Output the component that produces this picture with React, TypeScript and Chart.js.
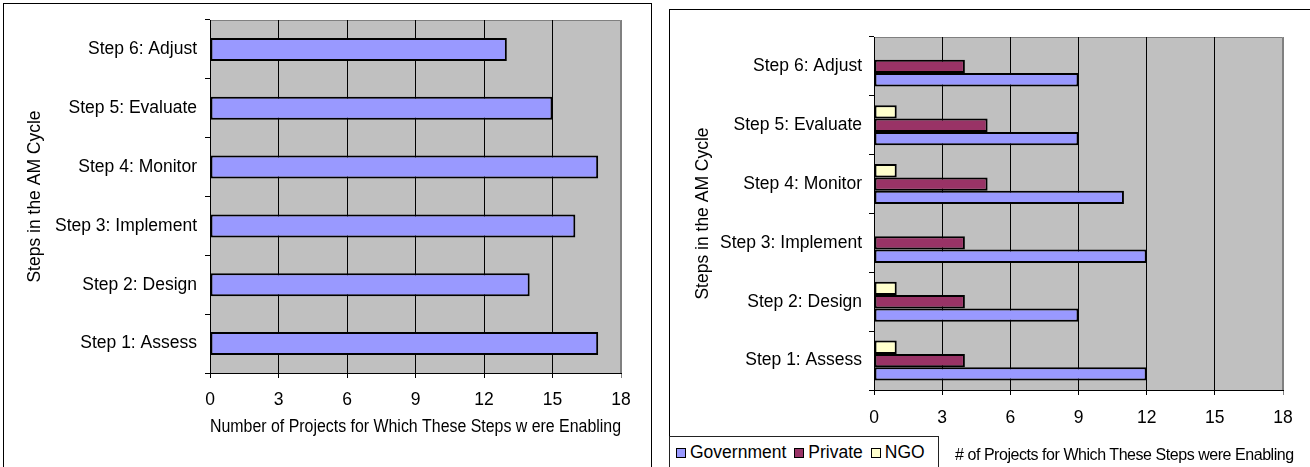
import React, { useEffect, useRef } from 'react';
import { Chart, registerables } from 'chart.js';

Chart.register(...registerables);

// Categories, top to bottom as they appear on the vertical axis
const stepLabels = [
  'Step 6: Adjust',
  'Step 5: Evaluate',
  'Step 4: Monitor',
  'Step 3: Implement',
  'Step 2: Design',
  'Step 1: Assess',
];

// Left chart: all projects
const enablingCounts = [13, 15, 17, 16, 14, 17];

// Right chart: by sector
const governmentCounts = [9, 9, 11, 12, 9, 12];
const privateCounts = [4, 5, 5, 4, 4, 4];
const ngoCounts = [0, 1, 1, 0, 1, 1];

const xTickValues = [0, 3, 6, 9, 12, 15, 18];

const FONT_FAMILY = "'Liberation Sans', Arial, Helvetica, sans-serif";
const baseFont = { family: FONT_FAMILY, size: 17.5 };

const GOV_COLOR = '#9999FF';
const PRIVATE_COLOR = '#993366';
const NGO_COLOR = '#FFFFCC';

// Grey plot area with a thin grey frame on top and right
const plotBackground = {
  id: 'plotBackground',
  beforeDraw(chart: any) {
    const { ctx, chartArea: a } = chart;
    ctx.save();
    ctx.fillStyle = '#C0C0C0';
    ctx.fillRect(a.left, a.top, a.right - a.left, a.bottom - a.top);
    ctx.strokeStyle = '#808080';
    ctx.lineWidth = 1;
    ctx.beginPath();
    ctx.moveTo(a.left, a.top + 0.5);
    ctx.lineTo(a.right - 0.5, a.top + 0.5);
    ctx.lineTo(a.right - 0.5, a.bottom);
    ctx.stroke();
    ctx.restore();
  },
};

function zeroPadding(s: any) {
  s.paddingLeft = 0;
  s.paddingRight = 0;
  s.paddingTop = 0;
  s.paddingBottom = 0;
}

interface AxisLayout {
  yWidth: number;
  yTitlePad: number;
  yLabelPad: number;
  xHeight: number;
  xLabelPad: number;
  xTitle?: string;
  xTitlePadBottom?: number;
}

function buildScales(l: AxisLayout) {
  return {
    x: {
      type: 'linear' as const,
      min: 0,
      max: 18,
      afterBuildTicks: (s: any) => {
        s.ticks = xTickValues.map((v) => ({ value: v }));
      },
      ticks: { font: baseFont, color: '#000', padding: l.xLabelPad, maxRotation: 0 },
      grid: {
        color: (c: any) => (c.tick && c.tick.value === 18 ? '#808080' : '#000'),
        lineWidth: 1,
        tickLength: 5,
        drawTicks: true,
      },
      border: { color: '#000', width: 1 },
      title: l.xTitle
        ? {
            display: true,
            text: l.xTitle,
            font: baseFont,
            color: '#000',
            padding: { top: 0, bottom: l.xTitlePadBottom ?? 0 },
          }
        : { display: false },
      afterFit: (s: any) => {
        s.height = l.xHeight;
        zeroPadding(s);
      },
    },
    y: {
      type: 'category' as const,
      grid: {
        drawOnChartArea: false,
        drawTicks: true,
        tickLength: 5,
        color: '#000',
        offset: true,
      },
      border: { color: '#000', width: 1 },
      ticks: { font: baseFont, color: '#000', padding: l.yLabelPad },
      title: {
        display: true,
        text: 'Steps in the AM Cycle',
        font: baseFont,
        color: '#000',
        padding: { top: l.yTitlePad, bottom: 0 },
      },
      afterFit: (s: any) => {
        s.width = l.yWidth;
        zeroPadding(s);
      },
    },
  };
}

function TotalChart() {
  const ref = useRef<HTMLCanvasElement>(null);
  useEffect(() => {
    if (!ref.current) return;
    const chart = new Chart(ref.current, {
      type: 'bar',
      data: {
        labels: stepLabels,
        datasets: [
          {
            label: 'Projects',
            data: enablingCounts,
            backgroundColor: GOV_COLOR,
            borderColor: '#000',
            borderWidth: 2,
            borderSkipped: false,
            categoryPercentage: 1,
            barPercentage: 0.39,
          },
        ],
      },
      options: {
        indexAxis: 'y',
        animation: false,
        responsive: false,
        maintainAspectRatio: false,
        layout: { padding: { left: 0, top: 16, right: 29, bottom: 0 } },
        plugins: { legend: { display: false }, tooltip: { enabled: false } },
        scales: buildScales({
          yWidth: 206,
          yTitlePad: 20.5,
          yLabelPad: 8,
          xHeight: 94,
          xLabelPad: 12,
          xTitle: 'Number of Projects for Which These Steps w ere Enabling',
          xTitlePadBottom: 29.5,
        }) as any,
      },
      plugins: [plotBackground],
    });
    return () => chart.destroy();
  }, []);
  return <canvas ref={ref} width={646} height={463} style={{ position: 'absolute', left: 4, top: 4 }} />;
}

function SectorChart() {
  const ref = useRef<HTMLCanvasElement>(null);
  useEffect(() => {
    if (!ref.current) return;
    const common = {
      borderColor: '#000',
      borderWidth: 2,
      borderSkipped: false as const,
      categoryPercentage: 0.68,
      barPercentage: 1,
    };
    const chart = new Chart(ref.current, {
      type: 'bar',
      data: {
        labels: stepLabels,
        datasets: [
          { label: 'NGO', data: ngoCounts, backgroundColor: NGO_COLOR, ...common },
          { label: 'Private', data: privateCounts, backgroundColor: PRIVATE_COLOR, ...common },
          { label: 'Government', data: governmentCounts, backgroundColor: GOV_COLOR, ...common },
        ],
      },
      options: {
        indexAxis: 'y',
        animation: false,
        responsive: false,
        maintainAspectRatio: false,
        layout: { padding: { left: 0, top: 27, right: 27, bottom: 0 } },
        plugins: { legend: { display: false }, tooltip: { enabled: false } },
        scales: buildScales({
          yWidth: 204,
          yTitlePad: 22.5,
          yLabelPad: 7,
          xHeight: 77,
          xLabelPad: 13,
        }) as any,
      },
      plugins: [plotBackground],
    });
    return () => chart.destroy();
  }, []);
  return <canvas ref={ref} width={640} height={457} style={{ position: 'absolute', left: 670, top: 10 }} />;
}

const legendItems = [
  { name: 'Government', color: GOV_COLOR },
  { name: 'Private', color: PRIVATE_COLOR },
  { name: 'NGO', color: NGO_COLOR },
];

export default function App() {
  return (
    <div
      style={{
        position: 'absolute',
        left: 0,
        top: 0,
        width: 1310,
        height: 467,
        overflow: 'hidden',
        background: '#fff',
        fontFamily: FONT_FAMILY,
      }}
    >
      {/* frames */}
      <div
        style={{
          position: 'absolute',
          left: 3,
          top: 3,
          width: 649,
          height: 480,
          border: '1px solid #000',
          boxSizing: 'border-box',
        }}
      />
      <div
        style={{
          position: 'absolute',
          left: 669,
          top: 9,
          width: 700,
          height: 480,
          border: '1px solid #000',
          boxSizing: 'border-box',
        }}
      />
      <TotalChart />
      <SectorChart />
      {/* legend for the sector chart */}
      <div
        style={{
          position: 'absolute',
          left: 669,
          top: 436,
          width: 270,
          height: 40,
          border: '1px solid #222',
          boxSizing: 'border-box',
          background: '#fff',
          display: 'flex',
          alignItems: 'flex-start',
          paddingLeft: 6,
          paddingTop: 5,
          fontSize: 17.5,
          lineHeight: '20px',
          color: '#000',
          whiteSpace: 'nowrap',
        }}
      >
        {legendItems.map((it, i) => (
          <div key={it.name} style={{ display: 'flex', alignItems: 'center', marginRight: i < legendItems.length - 1 ? 8 : 0 }}>
            <span
              style={{
                display: 'inline-block',
                width: 8,
                height: 8,
                border: '1px solid #000',
                background: it.color,
                marginRight: 4,
                marginTop: 2,
              }}
            />
            <span>{it.name}</span>
          </div>
        ))}
      </div>
      <div
        style={{
          position: 'absolute',
          left: 955,
          top: 445,
          fontSize: 16,
          lineHeight: '20px',
          letterSpacing: '-0.45px',
          whiteSpace: 'nowrap',
          color: '#000',
        }}
      >
        # of Projects for Which These Steps were Enabling
      </div>
    </div>
  );
}
